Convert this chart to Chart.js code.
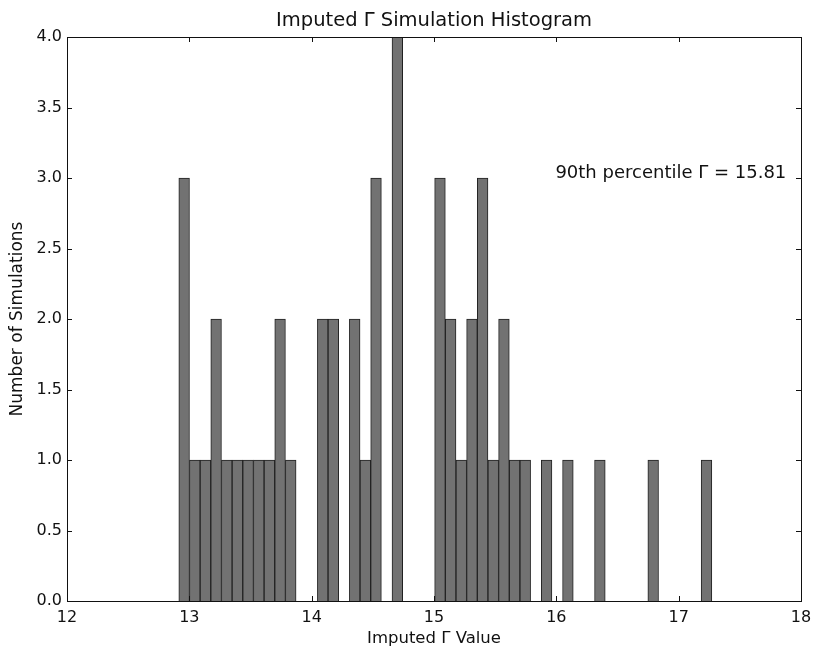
<!DOCTYPE html>
<html>
<head>
<meta charset="utf-8">
<script src="https://cdn.jsdelivr.net/npm/chart.js@4"></script>
<style>
  html, body { margin: 0; padding: 0; background: #fff; }
  #wrap { width: 814px; height: 652px; }
</style>
</head>
<body>
<div id="wrap"><canvas id="histChart" width="814" height="652"></canvas></div>
<script>
// histogram: 50 bins between the smallest and largest simulated value
const binMin = 12.914;
const binMax = 17.271;
const binCounts = [
  3, 1, 1, 2, 1, 1, 1, 1, 1, 2,
  1, 0, 0, 2, 2, 0, 2, 1, 3, 0,
  4, 0, 0, 0, 3, 2, 1, 2, 3, 1,
  2, 1, 1, 0, 1, 0, 1, 0, 0, 1,
  0, 0, 0, 0, 1, 0, 0, 0, 0, 1
];
const xTicks = [12, 13, 14, 15, 16, 17, 18];
const yTicks = [0, 0.5, 1, 1.5, 2, 2.5, 3, 3.5, 4];
const percentile90 = 15.81;

const FONT = "'DejaVu Sans', 'Liberation Sans', sans-serif";

const binWidth = (binMax - binMin) / binCounts.length;
const histData = binCounts.map((c, i) => ({ x: binMin + binWidth * (i + 0.5), y: c }));

// matplotlib-style frame, inward ticks and text
const framePlugin = {
  id: "frame",
  afterDatasetsDraw(chart) {
    const { ctx, chartArea: a, scales } = chart;
    const xs = scales.x, ys = scales.y;
    ctx.save();
    ctx.strokeStyle = "#111";
    ctx.lineWidth = 1;
    ctx.strokeRect(Math.round(a.left) + 0.5, Math.round(a.top) + 0.5,
      Math.round(a.right - a.left), Math.round(a.bottom - a.top));
    const tl = 5;
    ctx.beginPath();
    xTicks.forEach(v => {
      const px = Math.round(xs.getPixelForValue(v)) + 0.5;
      ctx.moveTo(px, a.bottom); ctx.lineTo(px, a.bottom - tl);
      ctx.moveTo(px, a.top); ctx.lineTo(px, a.top + tl);
    });
    yTicks.forEach(v => {
      const py = Math.round(ys.getPixelForValue(v)) + 0.5;
      ctx.moveTo(a.left, py); ctx.lineTo(a.left + tl, py);
      ctx.moveTo(a.right, py); ctx.lineTo(a.right - tl, py);
    });
    ctx.stroke();

    ctx.fillStyle = "#111";
    ctx.textBaseline = "middle";
    ctx.textAlign = "center";
    const cx = (a.left + a.right) / 2;
    ctx.font = "19.5px " + FONT;
    ctx.fillText("Imputed \u0393 Simulation Histogram", cx, 21);
    ctx.font = "16.5px " + FONT;
    ctx.fillText("Imputed \u0393 Value", cx, 639);

    ctx.save();
    ctx.translate(18, (a.top + a.bottom) / 2);
    ctx.rotate(-Math.PI / 2);
    ctx.font = "17px " + FONT;
    ctx.fillText("Number of Simulations", 0, 0);
    ctx.restore();

    ctx.textAlign = "right";
    ctx.textBaseline = "alphabetic";
    ctx.font = "18px " + FONT;
    ctx.fillText("90th percentile \u0393 = " + percentile90.toFixed(2),
      xs.getPixelForValue(17.88), ys.getPixelForValue(3.0));
    ctx.restore();
  }
};

new Chart(document.getElementById("histChart"), {
  type: "bar",
  data: {
    datasets: [{
      data: histData,
      backgroundColor: "#727272",
      borderColor: "#222",
      borderWidth: 1,
      barPercentage: 1.0,
      categoryPercentage: 1.0,
    }],
  },
  options: {
    responsive: false,
    animation: false,
    layout: { padding: { top: 37, right: 13, left: 0, bottom: 0 } },
    plugins: {
      legend: { display: false },
      tooltip: { enabled: false },
    },
    scales: {
      x: {
        type: "linear",
        min: 12,
        max: 18,
        offset: false,
        afterFit: s => { s.height = 51; s.paddingLeft = 0; s.paddingRight = 0; },
        afterBuildTicks: s => { s.ticks = xTicks.map(v => ({ value: v })); },
        grid: { display: false, drawTicks: false, offset: false },
        border: { display: false },
        ticks: { color: "#111", font: { family: FONT, size: 16 }, padding: 7, maxRotation: 0 },
      },
      y: {
        min: 0,
        max: 4,
        afterFit: s => { s.width = 67; s.paddingTop = 0; s.paddingBottom = 0; },
        afterBuildTicks: s => { s.ticks = yTicks.map(v => ({ value: v })); },
        grid: { display: false, drawTicks: false },
        border: { display: false },
        ticks: {
          color: "#111",
          font: { family: FONT, size: 16 },
          padding: 5,
          callback: v => Number(v).toFixed(1),
        },
      },
    },
  },
  plugins: [framePlugin],
});
</script>
</body>
</html>
